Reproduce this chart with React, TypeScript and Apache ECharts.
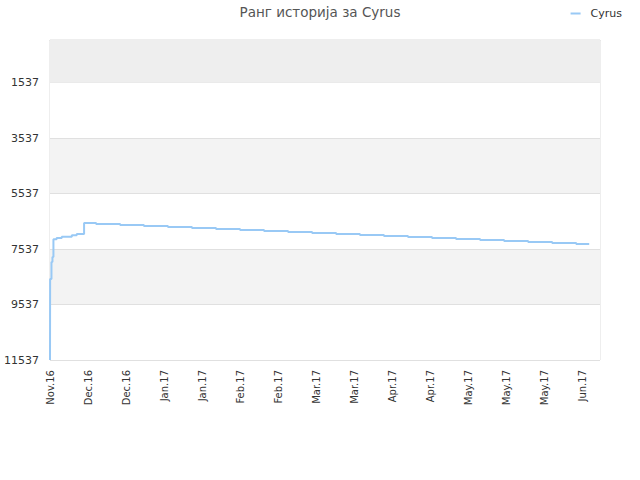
import React, { useEffect, useRef } from 'react';
import * as echarts from 'echarts';

// x = days from the start of the axis, y = rank (lower is better)
const stepDays = [0, 0.05, 0.6, 1.0, 1.4, 2.7, 4.8, 8.9, 10.9, 13.9, 18.8, 28.6, 38.3, 48.1, 57.9, 67.7, 77.5, 87.3, 97.1, 106.9, 116.7, 126.4, 136.2, 146.0, 155.8, 165.6, 175.4, 185.2, 195.0, 204.8, 214.6, 219.9];
const stepRanks = [11537, 8617, 8004, 7824, 7185, 7138, 7092, 7041, 6994, 6598, 6634, 6670, 6706, 6742, 6778, 6814, 6850, 6886, 6922, 6958, 6994, 7030, 7066, 7102, 7138, 7174, 7210, 7246, 7282, 7318, 7354, 7354];

const xLabels = ['Nov.16', 'Dec.16', 'Dec.16', 'Jan.17', 'Jan.17', 'Feb.17', 'Feb.17', 'Mar.17', 'Mar.17', 'Apr.17', 'Apr.17', 'May.17', 'May.17', 'May.17', 'Jun.17'];
const xLabelStep = 15.5;
const xMax = 224.3;

const yTicks = [1537, 3537, 5537, 7537, 9537, 11537];
const yMax = 11537;

const seriesName = 'Cyrus';
const titleText = 'Ранг историја за Cyrus';

const App: React.FC = () => {
  const chartRef: any = useRef();

  useEffect(() => {
    const chart = echarts.init(chartRef.current, null, { renderer: 'svg' });
    const font = 'DejaVu Sans';
    const xTickValues = xLabels.map((_, i) => i * xLabelStep);
    const option = {
      animation: false,
      backgroundColor: '#ffffff',
      textStyle: { fontFamily: font },
      title: {
        text: titleText,
        left: 'center',
        top: 0,
        textStyle: { fontSize: 13.5, fontWeight: 'normal', color: '#555555', fontFamily: font }
      },
      legend: {
        right: 13,
        top: 3,
        icon: 'rect',
        itemWidth: 10,
        itemHeight: 2,
        textStyle: { fontSize: 11, color: '#333333', fontFamily: font, padding: [0, 0, 0, 5] },
        data: [seriesName]
      },
      grid: {
        left: 50,
        right: 40,
        top: 40,
        bottom: 120,
        show: true,
        borderColor: '#dddddd',
        borderWidth: 1,
        backgroundColor: 'transparent'
      },
      xAxis: {
        type: 'value',
        min: 0,
        max: xMax,
        axisLine: { show: true, lineStyle: { color: '#dddddd' } },
        axisTick: { show: false, customValues: xTickValues },
        splitLine: { show: false },
        axisLabel: {
          customValues: xTickValues,
          rotate: 90,
          fontSize: 10,
          color: '#333333',
          fontFamily: font,
          margin: 10,
          formatter: (v: number) => xLabels[Math.round(v / xLabelStep)] ?? ''
        }
      },
      yAxis: {
        type: 'value',
        inverse: true,
        min: 0,
        max: yMax,
        axisLine: { show: false },
        axisTick: { show: false, customValues: yTicks },
        axisLabel: {
          customValues: yTicks,
          fontSize: 11,
          color: '#333333',
          fontFamily: font,
          margin: 11,
          formatter: (v: number) => String(v)
        },
        splitLine: { show: true, lineStyle: { color: '#e0e0e0', width: 1 } },
        splitArea: { show: true, areaStyle: { color: ['#ffffff', '#f3f3f3'] } }
      },
      series: [
        {
          name: seriesName,
          type: 'line',
          step: 'end',
          symbol: 'none',
          data: stepDays.map((d, i) => [d, stepRanks[i]]),
          lineStyle: { color: '#99c9f5', width: 2 },
          itemStyle: { color: '#99c9f5' },
          markArea: {
            silent: true,
            itemStyle: { color: '#eeeeee' },
            data: [[{ yAxis: 0 }, { yAxis: yTicks[0] }]]
          }
        }
      ]
    };
    chart.setOption(option as any);
    return () => {
      chart.dispose();
    };
  }, []);

  return (
    <div
      ref={chartRef}
      style={{ position: 'absolute', left: 0, top: 0, width: 640, height: 480 }}
    ></div>
  );
};

export default App;
